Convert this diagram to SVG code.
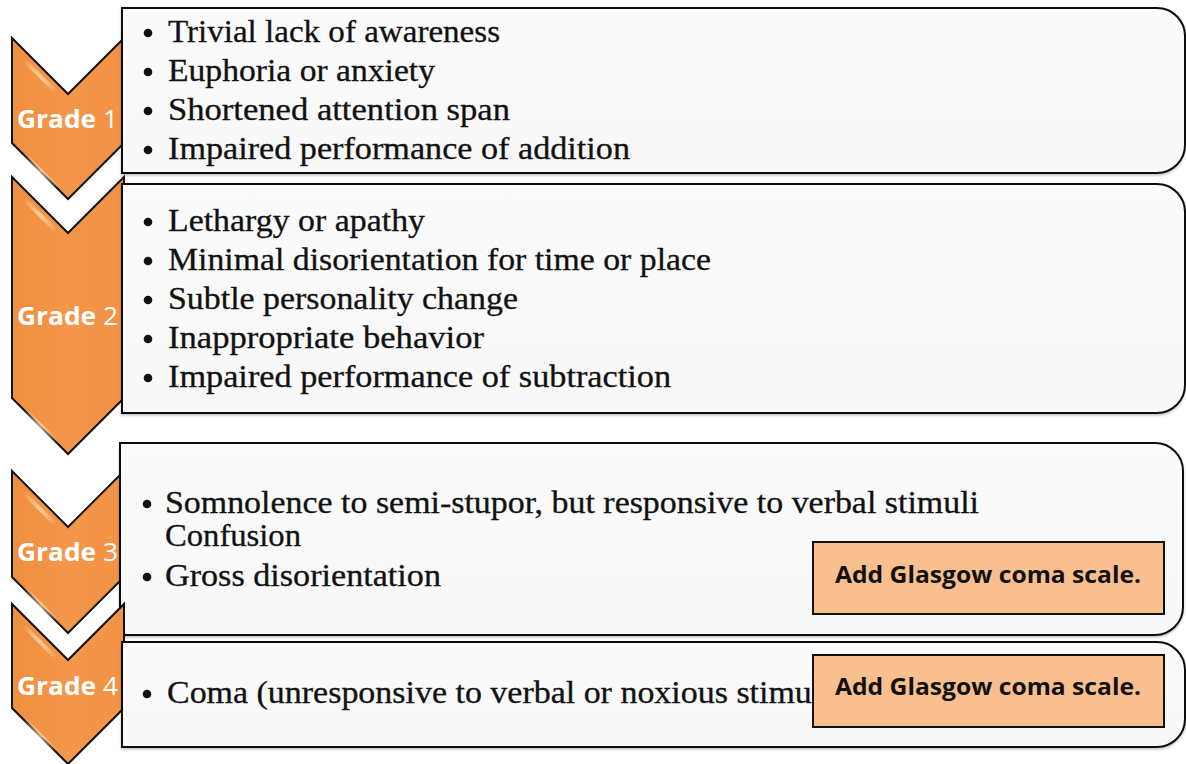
<svg xmlns="http://www.w3.org/2000/svg" width="1186" height="764" viewBox="0 0 1186 764">
  <defs>
    <linearGradient id="chevFill" x1="0" y1="0" x2="1" y2="0">
      <stop offset="0" stop-color="#F08E3E"/>
      <stop offset="0.5" stop-color="#F4974B"/>
      <stop offset="1" stop-color="#F29245"/>
    </linearGradient>
    <linearGradient id="glint" x1="0" y1="0" x2="1" y2="1">
      <stop offset="0" stop-color="#FFFFFF" stop-opacity="0"/>
      <stop offset="0.5" stop-color="#FFE3BC" stop-opacity="0.7"/>
      <stop offset="1" stop-color="#FFFFFF" stop-opacity="0"/>
    </linearGradient>
    <linearGradient id="boxFill" x1="0" y1="0" x2="0" y2="1">
      <stop offset="0" stop-color="#FBFBFB"/>
      <stop offset="1" stop-color="#F8F8F8"/>
    </linearGradient>
    <filter id="soft" x="-2%" y="-5%" width="104%" height="112%">
      <feDropShadow dx="0" dy="1.5" stdDeviation="1" flood-color="#000" flood-opacity="0.25"/>
    </filter>
  </defs>
  <style>
    .chev { fill: url(#chevFill); stroke: #111; stroke-width: 2; stroke-linejoin: miter; }
    .glint { stroke: url(#glint); stroke-width: 4; stroke-linecap: round; fill: none; }
    .box { fill: url(#boxFill); stroke: #111; stroke-width: 2; filter: url(#soft); }
    .grade { font-family: "Open Sans", "Liberation Sans", sans-serif; font-size: 25px; font-weight: 700; fill: #FFFFFF; }
    .grade .num { font-weight: 400; }
    .item { font-family: "Liberation Serif", "DejaVu Serif", serif; font-size: 30.5px; fill: #111; stroke: #111; stroke-width: 0.3; }
    .dot { fill: #111; }
    .note { fill: #F9BF8F; stroke: #111; stroke-width: 2; }
    .noteText { font-family: "Open Sans", "Liberation Sans", sans-serif; font-size: 23px; font-weight: 700; fill: #111; }
  </style>

  <rect width="1186" height="764" fill="#FFFFFF"/>

  <!-- Grade 1 -->
  <g id="grade1">
    <path class="chev" d="M12,38 L68,94 L124,38 L124,143 L68,199 L12,143 Z"/>
    <line class="glint" x1="24" y1="60" x2="56" y2="92"/>
    <line class="glint" x1="24" y1="154" x2="58" y2="188"/>
    <text class="grade" x="17" y="128" textLength="101" lengthAdjust="spacingAndGlyphs">Grade <tspan class="num">1</tspan></text>
    <path class="box" d="M122,8 H1157 A28,28 0 0 1 1185,36 V145 A28,28 0 0 1 1157,173 H122 Z"/>
    <circle class="dot" cx="148" cy="33" r="4.3"/>
    <text class="item" x="168" y="42" textLength="332" lengthAdjust="spacingAndGlyphs">Trivial lack of awareness</text>
    <circle class="dot" cx="148" cy="72" r="4.3"/>
    <text class="item" x="168" y="81" textLength="267" lengthAdjust="spacingAndGlyphs">Euphoria or anxiety</text>
    <circle class="dot" cx="148" cy="111" r="4.3"/>
    <text class="item" x="168" y="120" textLength="342" lengthAdjust="spacingAndGlyphs">Shortened attention span</text>
    <circle class="dot" cx="148" cy="150" r="4.3"/>
    <text class="item" x="168" y="159" textLength="462" lengthAdjust="spacingAndGlyphs">Impaired performance of addition</text>
  </g>

  <!-- Grade 2 -->
  <g id="grade2">
    <path class="chev" d="M12,177 L68,233 L124,177 L124,398 L68,454 L12,398 Z"/>
    <line class="glint" x1="24" y1="199" x2="56" y2="231"/>
    <line class="glint" x1="24" y1="409" x2="58" y2="443"/>
    <text class="grade" x="17" y="325" textLength="101" lengthAdjust="spacingAndGlyphs">Grade <tspan class="num">2</tspan></text>
    <path class="box" d="M122,184 H1157 A28,28 0 0 1 1185,212 V385 A28,28 0 0 1 1157,413 H122 Z"/>
    <circle class="dot" cx="148" cy="222" r="4.3"/>
    <text class="item" x="168" y="231" textLength="257" lengthAdjust="spacingAndGlyphs">Lethargy or apathy</text>
    <circle class="dot" cx="148" cy="261" r="4.3"/>
    <text class="item" x="168" y="270" textLength="543" lengthAdjust="spacingAndGlyphs">Minimal disorientation for time or place</text>
    <circle class="dot" cx="148" cy="300" r="4.3"/>
    <text class="item" x="168" y="309" textLength="350" lengthAdjust="spacingAndGlyphs">Subtle personality change</text>
    <circle class="dot" cx="148" cy="339" r="4.3"/>
    <text class="item" x="168" y="348" textLength="316" lengthAdjust="spacingAndGlyphs">Inappropriate behavior</text>
    <circle class="dot" cx="148" cy="378" r="4.3"/>
    <text class="item" x="168" y="387" textLength="503" lengthAdjust="spacingAndGlyphs">Impaired performance of subtraction</text>
  </g>

  <!-- Grade 3 -->
  <g id="grade3">
    <path class="chev" d="M12,471 L68,527 L124,471 L124,577 L68,633 L12,577 Z"/>
    <line class="glint" x1="24" y1="493" x2="56" y2="525"/>
    <line class="glint" x1="24" y1="588" x2="58" y2="622"/>
    <text class="grade" x="17" y="561" textLength="101" lengthAdjust="spacingAndGlyphs">Grade <tspan class="num">3</tspan></text>
    <path class="box" d="M120,443 H1155 A28,28 0 0 1 1183,471 V607 A28,28 0 0 1 1155,635 H120 Z"/>
    <circle class="dot" cx="147" cy="504" r="4.3"/>
    <text class="item" x="165" y="513" textLength="814" lengthAdjust="spacingAndGlyphs">Somnolence to semi-stupor, but responsive to verbal stimuli</text>
    <text class="item" x="165" y="546" textLength="136" lengthAdjust="spacingAndGlyphs">Confusion</text>
    <circle class="dot" cx="147" cy="577" r="4.3"/>
    <text class="item" x="165" y="586" textLength="276" lengthAdjust="spacingAndGlyphs">Gross disorientation</text>
    <rect class="note" x="813" y="542" width="351" height="72"/>
    <text class="noteText" x="835" y="583" textLength="306" lengthAdjust="spacingAndGlyphs">Add Glasgow coma scale.</text>
  </g>

  <!-- Grade 4 -->
  <g id="grade4">
    <path class="chev" d="M12,604 L68,660 L124,604 L124,708 L68,764 L12,708 Z"/>
    <line class="glint" x1="24" y1="626" x2="56" y2="658"/>
    <line class="glint" x1="24" y1="719" x2="56" y2="751"/>
    <text class="grade" x="17" y="695" textLength="101" lengthAdjust="spacingAndGlyphs">Grade <tspan class="num">4</tspan></text>
    <path class="box" d="M122,642 H1157 A28,28 0 0 1 1185,670 V719 A28,28 0 0 1 1157,747 H122 Z"/>
    <circle class="dot" cx="147" cy="694" r="4.3"/>
    <text class="item" x="167" y="703" textLength="675" lengthAdjust="spacingAndGlyphs">Coma (unresponsive to verbal or noxious stimuli)</text>
    <rect class="note" x="813" y="655" width="351" height="72"/>
    <text class="noteText" x="835" y="695" textLength="306" lengthAdjust="spacingAndGlyphs">Add Glasgow coma scale.</text>
  </g>

  <!-- no connectors: the chevrons carry the sequence -->
  <g id="connectors"/>
</svg>
